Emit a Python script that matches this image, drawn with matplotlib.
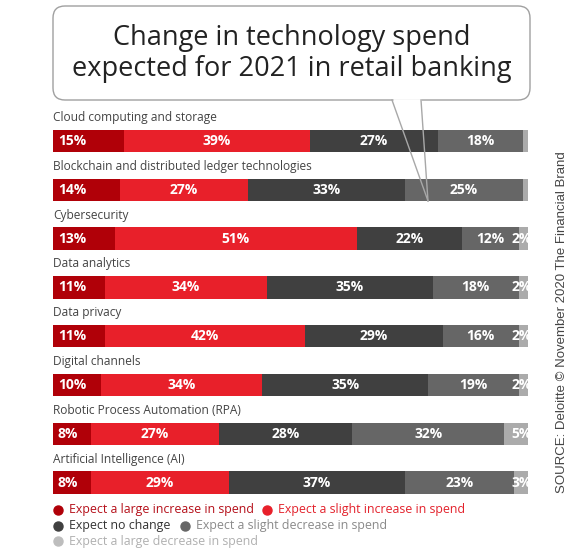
import matplotlib
matplotlib.use("Agg")
import matplotlib.pyplot as plt
from matplotlib.patches import FancyBboxPatch
import numpy as np

categories = [
    "Cloud computing and storage",
    "Blockchain and distributed ledger technologies",
    "Cybersecurity",
    "Data analytics",
    "Data privacy",
    "Digital channels",
    "Robotic Process Automation (RPA)",
    "Artificial Intelligence (AI)",
]
large_increase = [15, 14, 13, 11, 11, 10, 8, 8]
slight_increase = [39, 27, 51, 34, 42, 34, 27, 29]
no_change = [27, 33, 22, 35, 29, 35, 28, 37]
slight_decrease = [18, 25, 12, 18, 16, 19, 32, 23]
large_decrease = [1, 1, 2, 2, 2, 2, 5, 3]

series = [large_increase, slight_increase, no_change, slight_decrease, large_decrease]
series_names = [
    "Expect a large increase in spend",
    "Expect a slight increase in spend",
    "Expect no change",
    "Expect a slight decrease in spend",
    "Expect a large decrease in spend",
]
colors = ["#b00008", "#e8202a", "#404040", "#666666", "#ababab"]
legend_text_colors = ["#b5101a", "#e3222c", "#333333", "#8a8a8a", "#b0b0b0"]

FONT = "Open Sans"
W, H = 585, 550

fig = plt.figure(figsize=(W / 100, H / 100), dpi=100)
fig.patch.set_facecolor("white")

# bar axes, placed in pixel terms
top_px, bot_px = 100, 505
ax = fig.add_axes([53 / W, 1 - bot_px / H, 475 / W, (bot_px - top_px) / H])
row = 48.8
ax.set_ylim((bot_px - 141) / row, (top_px - 141) / row)
ax.set_xlim(0, 100)
ax.axis("off")

y = np.arange(len(categories))
bh = 0.46
left = np.zeros(len(categories))
for k, vals in enumerate(series):
    vals = np.array(vals, dtype=float)
    ax.barh(y, vals, left=left, height=bh, color=colors[k], edgecolor="none")
    for i, v in enumerate(vals):
        if v < 2:
            continue
        lab = f"{int(v)}%"
        if k == 0:
            ax.text(left[i] + 1.0, y[i], lab, ha="left", va="center", color="white",
                    fontsize=10, fontweight="bold", family=FONT)
        elif k == len(series) - 1:
            ax.text(100.8, y[i], lab, ha="right", va="center", color="white",
                    fontsize=10, fontweight="bold", family=FONT, clip_on=True)
        else:
            ax.text(left[i] + v / 2, y[i], lab, ha="center", va="center", color="white",
                    fontsize=10, fontweight="bold", family=FONT)
    left += vals

for i, c in enumerate(categories):
    ax.text(0, y[i] - bh / 2 - 0.12, c, ha="left", va="bottom", color="#444444",
            fontsize=8.6, family=FONT)

# overlay in pixel coordinates for callout, legend and source
ov = fig.add_axes([0, 0, 1, 1], facecolor="none")
ov.set_xlim(0, W)
ov.set_ylim(H, 0)
ov.axis("off")

bubble = FancyBboxPatch((53, 6), 477, 94, boxstyle="round,pad=0,rounding_size=12",
                        facecolor="white", edgecolor="#a0a0a0", lw=1.0)
ov.add_patch(bubble)
ov.plot([393, 421], [100, 100], color="white", lw=2.0, solid_capstyle="butt")
ov.plot([392, 428], [100, 201], color="#a8a8a8", lw=1.0)
ov.plot([421, 428], [100, 201], color="#a8a8a8", lw=1.0)

ov.text(292, 38, "Change in technology spend", ha="center", va="center",
        fontsize=19.5, color="#222222", family=FONT)
ov.text(292, 69, "expected for 2021 in retail banking", ha="center", va="center",
        fontsize=19.5, color="#222222", family=FONT)

# legend
legend_pos = [(58, 510), (267, 510), (58, 526), (185, 526), (58, 541)]
for k, (lx, ly) in enumerate(legend_pos):
    ov.plot(lx, ly, "o", ms=6.5, color=colors[k] if k != 4 else "#bdbdbd")
    ov.text(lx + 11, ly, series_names[k], ha="left", va="center",
            fontsize=8.9, color=legend_text_colors[k], family=FONT)

ov.text(562, 322, "SOURCE: Deloitte \u00a9 November 2020 The Financial Brand",
        rotation=90, ha="center", va="center", fontsize=9.5, color="#444444",
        family="Liberation Sans")

fig.savefig("out.png", dpi=100)
